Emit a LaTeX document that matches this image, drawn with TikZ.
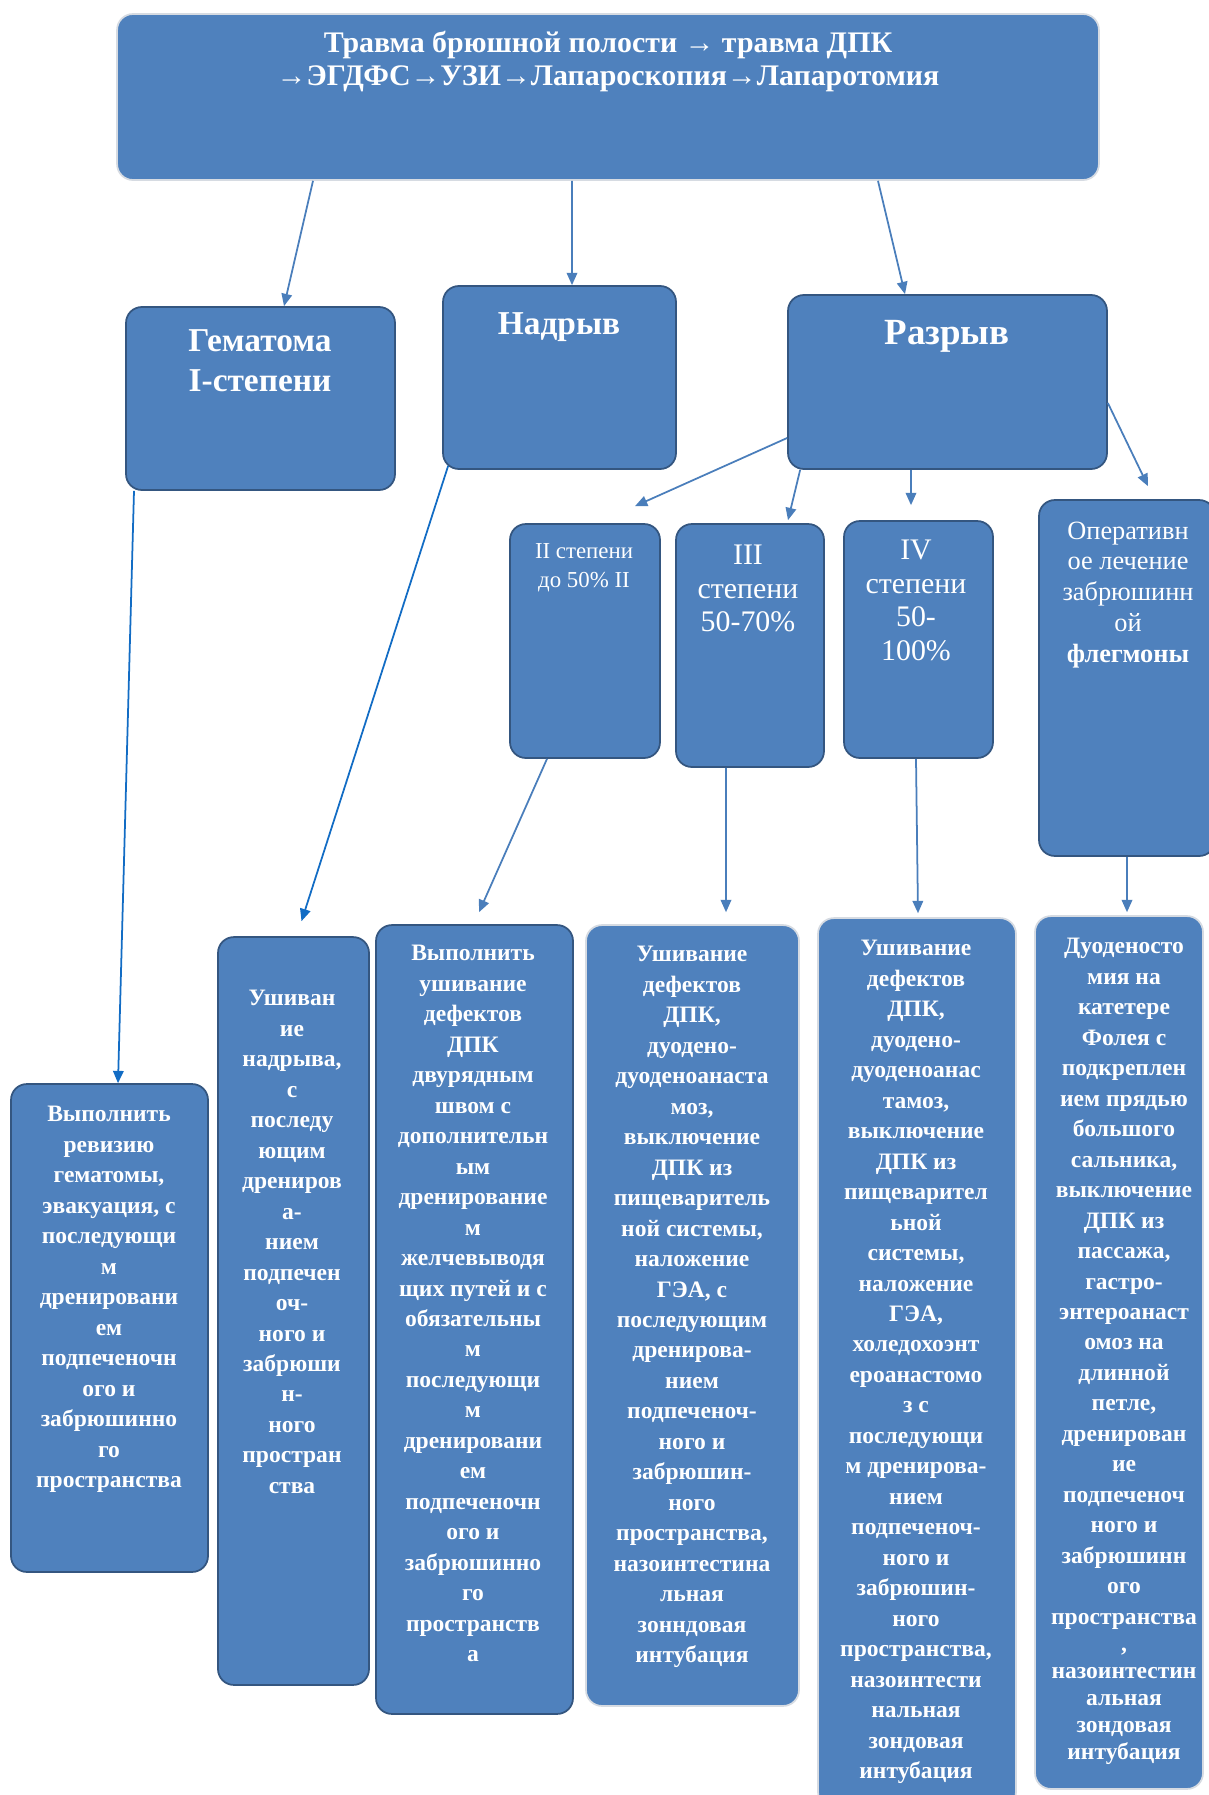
\documentclass[tikz,border=0pt]{standalone}
\usepackage{fontspec}
\setmainfont{Liberation Serif}
\usetikzlibrary{arrows.meta}
\definecolor{boxblue}{RGB}{79,129,189}
\definecolor{boxedge}{RGB}{52,86,128}
\definecolor{boxglow}{RGB}{214,219,226}
\definecolor{lineblue}{RGB}{74,126,187}
\definecolor{linedeep}{RGB}{18,108,196}

\begin{document}
\begin{tikzpicture}[x=0.02cm,y=-0.02cm,
  card/.style={fill=boxblue,rounded corners=9pt,line width=1pt},
  txt/.style={text=white,align=center,anchor=north,inner sep=0pt},
  body/.style={txt,font=\bfseries\fontsize{13.4}{17.35}\selectfont},
  conn/.style={draw=lineblue,line width=1pt,-{Triangle[length=7pt,width=6pt]}}]
  \useasboundingbox (0,0) rectangle (1208,1795);

  \foreach \n/\x/\y/\w/\h/\c in {
    top/608/97/19.64/3.32/boxglow, gem/260.5/398.5/5.38/3.66/boxedge,
    nad/559.5/377.5/4.66/3.66/boxedge, raz/947.5/382/6.38/3.48/boxedge,
    s2/585/641/3.00/4.68/boxedge, s3/750/645.5/2.96/4.86/boxedge,
    s4/918.5/639.5/2.98/4.74/boxedge, op/1127/678/3.52/7.12/boxedge,
    b1/109.5/1328/3.94/9.76/boxedge, b2/293.5/1311/3.02/14.96/boxedge,
    b3/474.5/1319.5/3.94/15.78/boxedge, b4/692.5/1315.5/4.26/15.62/boxglow,
    b5/917/1363/3.96/17.8/boxglow, b6/1119/1352.5/3.36/17.46/boxglow}{
    \node[card,draw=\c,minimum width=\w cm,minimum height=\h cm] (\n) at (\x,\y) {};
  }

  \node[txt,font=\bfseries\fontsize{17}{19.3}\selectfont] (toptxt) at (608,28)
    {\strut Травма брюшной полости → травма ДПК\\
     →ЭГДФС→УЗИ→Лапароскопия→Лапаротомия};
  \node[txt,font=\bfseries\fontsize{19}{22.7}\selectfont] (gemtxt) at (260,323)
    {\strut Гематома\\I-степени};
  \node[txt,font=\bfseries\fontsize{19}{22.7}\selectfont] (nadtxt) at (559,306)
    {\strut Надрыв};
  \node[txt,font=\bfseries\fontsize{21}{24}\selectfont] (raztxt) at (947,315)
    {\strut Разрыв};
  \node[txt,font=\fontsize{13}{16.4}\selectfont] (s2txt) at (584,538)
    {\strut II степени\\до 50\% II};
  \node[txt,font=\fontsize{17}{19.3}\selectfont] (s3txt) at (748,540)
    {\strut III\\степени\\50-70\%};
  \node[txt,font=\fontsize{17}{19.3}\selectfont] (s4txt) at (916,535)
    {\strut IV\\степени\\50-\\100\%};
  \node[txt,font=\fontsize{15}{17.6}\selectfont] (optxt) at (1128,517)
    {\strut Оперативн\\ое лечение\\забрюшинн\\ой\\\textbf{флегмоны}};

  \node[body] (b1txt) at (109,1100)
    {\strut Выполнить\\ревизию\\гематомы,\\эвакуация, с\\последующи\\м\\дренировани\\ем\\
     подпеченочн\\ого и\\забрюшинно\\го\\пространства};
  \node[body] (b2txt) at (292,984)
    {\strut Ушиван\\ие\\надрыва,\\с\\последу\\ющим\\дрениров\\а-\\нием\\подпечен\\оч-\\
     ного и\\забрюши\\н-\\ного\\простран\\ства};
  \node[body] (b3txt) at (473,939)
    {\strut Выполнить\\ушивание\\дефектов\\ДПК\\двурядным\\швом с\\дополнительн\\ым\\
     дренирование\\м\\желчевыводя\\щих путей и с\\обязательны\\м\\последующи\\м\\
     дренировани\\ем\\подпеченочн\\ого и\\забрюшинно\\го\\пространств\\а};
  \node[body] (b4txt) at (692,940)
    {\strut Ушивание\\дефектов\\ДПК,\\дуодено-\\дуоденоанаста\\моз,\\выключение\\ДПК из\\
     пищеваритель\\ной системы,\\наложение\\ГЭА, с\\последующим\\дренирова-\\нием\\
     подпеченоч-\\ного и\\забрюшин-\\ного\\пространства,\\назоинтестина\\льная\\
     зонндовая\\интубация};
  \node[body] (b5txt) at (916,934)
    {\strut Ушивание\\дефектов\\ДПК,\\дуодено-\\дуоденоанас\\тамоз,\\выключение\\ДПК из\\
     пищеварител\\ьной\\системы,\\наложение\\ГЭА,\\холедохоэнт\\ероанастомо\\з с\\
     последующи\\м дренирова-\\нием\\подпеченоч-\\ного и\\забрюшин-\\ного\\
     пространства,\\назоинтести\\нальная\\зондовая\\интубация};
  \node[body] (b6txt) at (1124,932)
    {\strut Дуоденосто\\мия на\\катетере\\Фолея с\\подкреплен\\ием прядью\\большого\\
     сальника,\\выключение\\ДПК из\\пассажа,\\гастро-\\энтероанаст\\омоз на\\длинной\\
     петле,\\дренирован\\ие\\подпеченоч\\ного и\\забрюшинн\\ого\\пространства\\[-2pt]
     ,\\[-2pt]назоинтестин\\[-2pt]альная\\[-2pt]зондовая\\[-2pt]интубация};

  \draw[conn] ([shift={(-295,0)}]top.south) -- ([shift={(23.5,0)}]gem.north);
  \draw[conn] ([shift={(-36,0)}]top.south) -- ([shift={(12.5,0)}]nad.north);
  \draw[conn] ([shift={(270,0)}]top.south) -- ([shift={(-42.5,0)}]raz.north);
  \draw[conn,draw=linedeep] ([shift={(-126.5,0)}]gem.south) -- ([shift={(8.5,0)}]b1.north);
  \draw[conn,draw=linedeep] ([shift={(6,-4)}]nad.south west) -- ([shift={(8,-15)}]b2.north);
  \draw[conn] ([shift={(0,56)}]raz.west) -- ([shift={(50,-17)}]s2.north);
  \draw[conn] ([shift={(13,0)}]raz.south west) -- ([shift={(38,-3)}]s3.north);
  \draw[conn] ([shift={(-36.5,0)}]raz.south) -- ([shift={(-7.5,-15)}]s4.north);
  \draw[conn] ([shift={(0,21)}]raz.east) -- ([shift={(21,-13)}]op.north);
  \draw[conn] ([shift={(-38,0)}]s2.south) -- ([shift={(4.5,-12)}]b3.north);
  \draw[conn] ([shift={(-24,0)}]s3.south) -- ([shift={(33.5,-12)}]b4.north);
  \draw[conn] ([shift={(-2.5,0)}]s4.south) -- ([shift={(1,-4)}]b5.north);
  \draw[conn] (op.south) -- ([shift={(8,-3)}]b6.north);
\end{tikzpicture}
\end{document}
